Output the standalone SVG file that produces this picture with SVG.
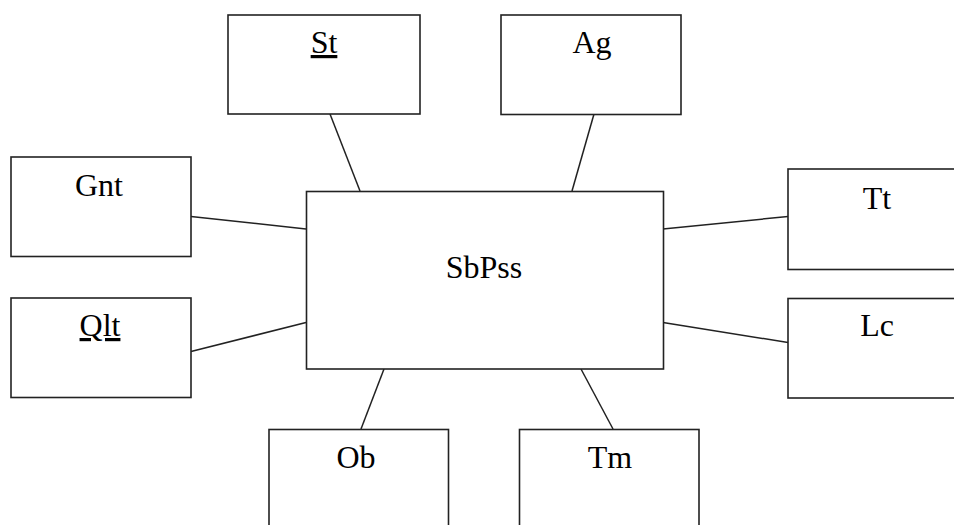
<svg xmlns="http://www.w3.org/2000/svg" width="954" height="525" viewBox="0 0 954 525">
  <style>
    .box { fill: #ffffff; stroke: #222222; stroke-width: 1.6; }
    .link { stroke: #222222; stroke-width: 1.5; fill: none; }
    .label { font-family: "Liberation Serif", "Times New Roman", serif; font-size: 32px; fill: #000000; text-anchor: middle; }
    .ul { text-decoration: underline; }
  </style>
  <rect width="954" height="525" fill="#ffffff"/>

  <!-- spokes from the central box to each surrounding box -->
  <g id="connectors">
    <line class="link" x1="330" y1="114" x2="360" y2="191"/>
    <line class="link" x1="594" y1="114" x2="572" y2="191"/>
    <line class="link" x1="191" y1="216.5" x2="306" y2="229"/>
    <line class="link" x1="191" y1="351.5" x2="306" y2="322.5"/>
    <line class="link" x1="663" y1="229" x2="788" y2="216.5"/>
    <line class="link" x1="663" y1="322.5" x2="788" y2="342.5"/>
    <line class="link" x1="384" y1="369" x2="361" y2="429"/>
    <line class="link" x1="581" y1="369" x2="613" y2="429"/>
  </g>

  <g id="node-sbpss">
    <rect class="box" x="306.5" y="191.5" width="357" height="177.5"/>
    <text class="label" x="484" y="278">SbPss</text>
  </g>

  <g id="node-st">
    <rect class="box" x="228" y="15" width="192" height="99"/>
    <text class="label ul" x="324" y="53">St</text>
  </g>

  <g id="node-ag">
    <rect class="box" x="501" y="15" width="180" height="99.5"/>
    <text class="label" x="592" y="53">Ag</text>
  </g>

  <g id="node-gnt">
    <rect class="box" x="11" y="157" width="180" height="99.5"/>
    <text class="label" x="99" y="196">Gnt</text>
  </g>

  <g id="node-qlt">
    <rect class="box" x="11" y="298" width="180" height="99.5"/>
    <text class="label ul" x="100" y="336">Qlt</text>
  </g>

  <g id="node-tt">
    <rect class="box" x="788" y="169" width="180" height="100.5"/>
    <text class="label" x="877" y="209">Tt</text>
  </g>

  <g id="node-lc">
    <rect class="box" x="788" y="298.5" width="180" height="99.5"/>
    <text class="label" x="877" y="336">Lc</text>
  </g>

  <g id="node-ob">
    <rect class="box" x="269" y="429.5" width="179.5" height="120"/>
    <text class="label" x="356" y="468">Ob</text>
  </g>

  <g id="node-tm">
    <rect class="box" x="519.5" y="429.5" width="179.5" height="120"/>
    <text class="label" x="610" y="468">Tm</text>
  </g>
</svg>
